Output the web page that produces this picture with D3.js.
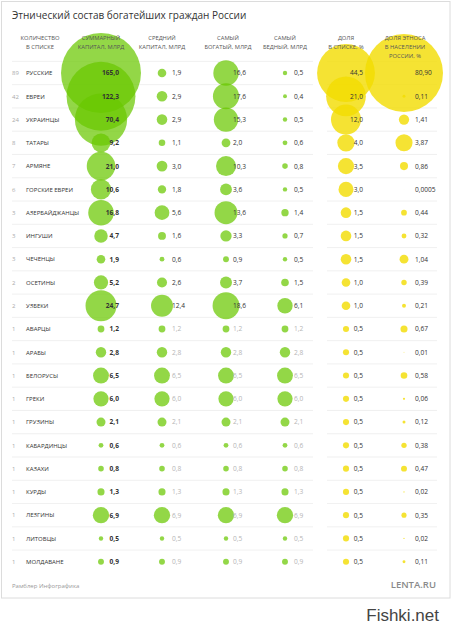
<!DOCTYPE html>
<html>
<head>
<meta charset="utf-8">
<script src="https://cdn.jsdelivr.net/npm/d3@7"></script>
<style>
html,body{margin:0;padding:0;background:#fff;}
svg{display:block;font-family:"Open Sans",sans-serif;}
</style>
</head>
<body>
<svg id="chart" width="453" height="630"></svg>
<script>
const title = "Этнический состав богатейших граждан России";
const counts = [89,42,24,8,7,6,3,3,3,2,2,1,1,1,1,1,1,1,1,1,1,1];
const names = ["РУССКИЕ","ЕВРЕИ","УКРАИНЦЫ","ТАТАРЫ","АРМЯНЕ","ГОРСКИЕ ЕВРЕИ","АЗЕРБАЙДЖАНЦЫ","ИНГУШИ","ЧЕЧЕНЦЫ","ОСЕТИНЫ","УЗБЕКИ","АВАРЦЫ","АРАБЫ","БЕЛОРУСЫ","ГРЕКИ","ГРУЗИНЫ","КАБАРДИНЦЫ","КАЗАХИ","КУРДЫ","ЛЕЗГИНЫ","ЛИТОВЦЫ","МОЛДАВАНЕ"];
const sumCap = [165.0,122.3,70.4,9.2,21.0,10.6,16.8,4.7,1.9,5.2,24.7,1.2,2.8,6.5,6.0,2.1,0.6,0.8,1.3,6.9,0.5,0.9];
const avgCap = [1.9,2.9,2.9,1.1,3.0,1.8,5.6,1.6,0.6,2.6,12.4,1.2,2.8,6.5,6.0,2.1,0.6,0.8,1.3,6.9,0.5,0.9];
const richest = [16.6,17.6,15.3,2.0,10.3,3.6,13.6,3.3,0.9,3.7,18.6,1.2,2.8,6.5,6.0,2.1,0.6,0.8,1.3,6.9,0.5,0.9];
const poorest = [0.5,0.4,0.5,0.6,0.8,0.5,1.4,0.7,0.5,1.5,6.1,1.2,2.8,6.5,6.0,2.1,0.6,0.8,1.3,6.9,0.5,0.9];
const shareList = [44.5,21.0,12.0,4.0,3.5,3.0,1.5,1.5,1.5,1.0,1.0,0.5,0.5,0.5,0.5,0.5,0.5,0.5,0.5,0.5,0.5,0.5];
const sharePopText = ["80,90","0,11","1,41","3,87","0,86","0,0005","0,44","0,32","1,04","0,39","0,21","0,67","0,01","0,58","0,06","0,12","0,38","0,47","0,02","0,35","0,02","0,11"];
const sharePop = sharePopText.map(s => +s.replace(",", "."));
const headers = [
  ["КОЛИЧЕСТВО","В СПИСКЕ"],
  ["СУММАРНЫЙ","КАПИТАЛ, МЛРД"],
  ["СРЕДНИЙ","КАПИТАЛ, МЛРД"],
  ["САМЫЙ","БОГАТЫЙ, МЛРД"],
  ["САМЫЙ","БЕДНЫЙ, МЛРД"],
  ["ДОЛЯ","В СПИСКЕ, %"],
  ["ДОЛЯ ЭТНОСА","В НАСЕЛЕНИИ","РОССИИ, %"]
];

const svg = d3.select("#chart");
const fmt1 = v => d3.format(".1f")(v).replace(".", ",");

const y = d3.scaleBand().domain(d3.range(names.length)).range([61.4, 61.4 + 23.27*names.length]);
const yc = i => y(i) + y.bandwidth()/2;
const rG = d3.scaleSqrt().domain([0,165]).range([0,40]);
const rY = d3.scaleSqrt().domain([0,80.9]).range([0,39]);

// card
svg.append("rect").attr("x",1.5).attr("y",1.5).attr("width",448.5).attr("height",596.5)
  .attr("fill","#fff").attr("stroke","#dcdcdc");

// separators
const gl = svg.append("g");
d3.range(names.length).forEach(i => {
  const yy = y(i);
  gl.append("line").attr("x1",12).attr("x2",313).attr("y1",yy).attr("y2",yy).attr("stroke","#ececec").attr("stroke-width",0.8);
  gl.append("line").attr("x1",327).attr("x2",437).attr("y1",yy).attr("y2",yy).attr("stroke","#ececec").attr("stroke-width",0.8);
});

const cols = [
  {cx:101, data:sumCap, r:rG, color:"#6ac800", op:0.72, tx:119, anchor:"end", weight:700},
  {cx:162, data:avgCap, r:rG, color:"#6ac800", op:0.72, tx:172, anchor:"start", weight:400, grayFrom:11},
  {cx:226, data:richest, r:rG, color:"#6ac800", op:0.72, tx:233, anchor:"start", weight:400, grayFrom:11},
  {cx:285, data:poorest, r:rG, color:"#6ac800", op:0.72, tx:294, anchor:"start", weight:400, grayFrom:11},
  {cx:346, data:shareList, r:rY, color:"#f2dc00", op:0.8, tx:363, anchor:"end", weight:400},
  {cx:404, data:sharePop, r:rY, color:"#f2dc00", op:0.8, tx:415, anchor:"start", weight:400, labels:sharePopText}
];

// circles
cols.forEach(c => {
  svg.append("g").selectAll("circle").data(c.data).join("circle")
    .attr("cx", c.cx).attr("cy", (d,i) => yc(i)).attr("r", d => c.r(d))
    .attr("fill", c.color).attr("fill-opacity", c.op);
});

// title
svg.append("text").attr("x",12).attr("y",18.5).attr("font-size",10).attr("fill","#333").text(title);

// headers
const hx = [40,101,162,228,285,346,405];
headers.forEach((h,k) => {
  h.forEach((line,j) => {
    svg.append("text").attr("x",hx[k]).attr("y",40 + j*9).attr("text-anchor","middle")
      .attr("font-size",5.8).attr("fill","#555").text(line);
  });
});

// rows
const gt = svg.append("g");
names.forEach((n,i) => {
  gt.append("text").attr("x",12).attr("y",yc(i)+2.3).attr("font-size",6).attr("fill","#aaa").text(counts[i]);
  gt.append("text").attr("x",26).attr("y",yc(i)+2.3).attr("font-size",6).attr("fill","#333").text(n);
});
cols.forEach(c => {
  gt.append("g").selectAll("text").data(c.data).join("text")
    .attr("x", c.tx).attr("y", (d,i) => yc(i)+2.4)
    .attr("text-anchor", c.anchor).attr("font-size", 6.6).attr("font-weight", c.weight)
    .attr("fill", (d,i) => (c.grayFrom !== undefined && i >= c.grayFrom) ? "#b5b5b5" : "#333")
    .text((d,i) => c.labels ? c.labels[i] : fmt1(d));
});

// footer
svg.append("text").attr("x",12).attr("y",588).attr("font-size",6).attr("fill","#999").text("Рамблер Инфографика");
svg.append("text").attr("x",436).attr("y",588).attr("text-anchor","end").attr("font-size",9.5)
  .attr("font-weight",600).attr("fill","#8a8a8a").text("LENTA.RU");
svg.append("text").attr("x",439).attr("y",621).attr("text-anchor","end").attr("font-size",17)
  .attr("font-family","'Liberation Sans',Arial,sans-serif").attr("fill","#444").text("Fishki.net");
</script>
</body>
</html>
